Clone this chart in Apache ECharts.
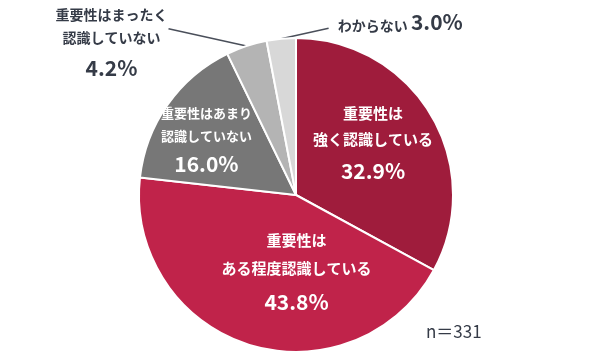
<!DOCTYPE html>
<html>
<head>
<meta charset="utf-8">
<script src="https://cdn.jsdelivr.net/npm/echarts@6/dist/echarts.min.js"></script>
<style>
html, body { margin: 0; padding: 0; background: #ffffff; }
#chart { width: 600px; height: 356px; }
</style>
</head>
<body>
<div id="chart"></div>
<script>
// ---- data ----
const categories = [
  '重要性は強く認識している',
  '重要性はある程度認識している',
  '重要性はあまり認識していない',
  '重要性はまったく認識していない',
  'わからない'
];
const labelLines = [
  ['重要性は', '強く認識している'],
  ['重要性は', 'ある程度認識している'],
  ['重要性はあまり', '認識していない'],
  ['重要性はまったく', '認識していない'],
  ['わからない']
];
const values = [32.9, 43.8, 16.0, 4.2, 3.0];
const sampleSize = 331;

// ---- styles ----
const colors = ['#9f1c3c', '#c0234a', '#777777', '#b4b4b4', '#d8d8d8'];
const FONT = '"Noto Sans CJK JP", "Noto Sans", sans-serif';
const DARK = '#353b47';
const WHITE = '#ffffff';
// rich style keys per slice: [text style, percent style]
const styleKeys = [['a', 'pa'], ['m', 'pa'], ['s', 'ps'], ['o', 'po'], ['c', 'pc']];
const outsideSlices = [false, false, false, true, true];
// label placement adjustments (px) relative to library-computed anchor
const labelAdjust = [[7, -7], [25, 2], [-23, -6], [-135, -1], [119, -19]];

const rich = {
  a:  { fontFamily: FONT, fontSize: 15, fontWeight: 'bold', color: WHITE, lineHeight: 26 },
  m:  { fontFamily: FONT, fontSize: 15, fontWeight: 'bold', color: WHITE, lineHeight: 28 },
  pa: { fontFamily: FONT, fontSize: 21, fontWeight: 'bold', color: WHITE, lineHeight: 38 },
  s:  { fontFamily: FONT, fontSize: 13, fontWeight: 'bold', color: WHITE, lineHeight: 23 },
  ps: { fontFamily: FONT, fontSize: 21, fontWeight: 'bold', color: WHITE, lineHeight: 34 },
  o:  { fontFamily: FONT, fontSize: 14, fontWeight: 'bold', color: DARK, lineHeight: 23 },
  po: { fontFamily: FONT, fontSize: 21, fontWeight: 'bold', color: DARK, lineHeight: 37 },
  c:  { fontFamily: FONT, fontSize: 14, fontWeight: 'bold', color: DARK, lineHeight: 26, verticalAlign: 'bottom' },
  pc: { fontFamily: FONT, fontSize: 21, fontWeight: 'bold', color: DARK, lineHeight: 26, verticalAlign: 'bottom' }
};

function fmt(i) {
  const k = styleKeys[i];
  const pct = values[i].toFixed(1) + '%';
  if (i === 4) {
    return '{' + k[0] + '|' + labelLines[i][0] + '} {' + k[1] + '|' + pct + '}';
  }
  return labelLines[i].map(t => '{' + k[0] + '|' + t + '}').join('\n') + '\n{' + k[1] + '|' + pct + '}';
}

const seriesData = values.map((v, i) => ({
  name: categories[i],
  value: v,
  itemStyle: { color: colors[i] },
  label: {
    show: true,
    position: outsideSlices[i] ? 'outside' : 'inside',
    formatter: fmt(i),
    rich: rich
  },
  labelLine: {
    show: outsideSlices[i],
    length: 10,
    length2: 10,
    lineStyle: { color: '#4a4f5a', width: 1.5 }
  }
}));

const chart = echarts.init(document.getElementById('chart'), null, { renderer: 'canvas' });
chart.setOption({
  animation: false,
  backgroundColor: '#ffffff',
  title: {
    text: 'n＝' + sampleSize,
    left: 421,
    top: 318,
    textStyle: { fontFamily: FONT, fontSize: 17, fontWeight: 'normal', color: DARK }
  },
  series: [{
    type: 'pie',
    center: [296, 195],
    radius: 157,
    startAngle: 90,
    clockwise: true,
    avoidLabelOverlap: false,
    itemStyle: { borderColor: '#ffffff', borderWidth: 2 },
    emphasis: { disabled: true },
    data: seriesData,
    labelLayout: function (p) {
      const i = p.dataIndex;
      const adj = labelAdjust[i];
      const w = p.labelRect.width, h = p.labelRect.height;
      let cx, cy;
      if (outsideSlices[i] && p.labelLinePoints) {
        cx = p.labelLinePoints[0][0] + adj[0];
        cy = p.labelLinePoints[0][1] + adj[1];
      } else {
        cx = p.labelRect.x + w / 2 + adj[0];
        cy = p.labelRect.y + h / 2 + adj[1];
      }
      const res = { x: cx, y: cy, align: 'center', verticalAlign: 'middle' };
      if (outsideSlices[i] && p.labelLinePoints) {
        const left = cx - w / 2, right = cx + w / 2, top = cy - h / 2, bottom = cy + h / 2;
        const start = p.labelLinePoints[0];
        const end = (i === 3) ? [right + 1, top + 19] : [left - 9, bottom - 2];
        res.labelLinePoints = [start, end];
      }
      return res;
    }
  }]
});
</script>
</body>
</html>
